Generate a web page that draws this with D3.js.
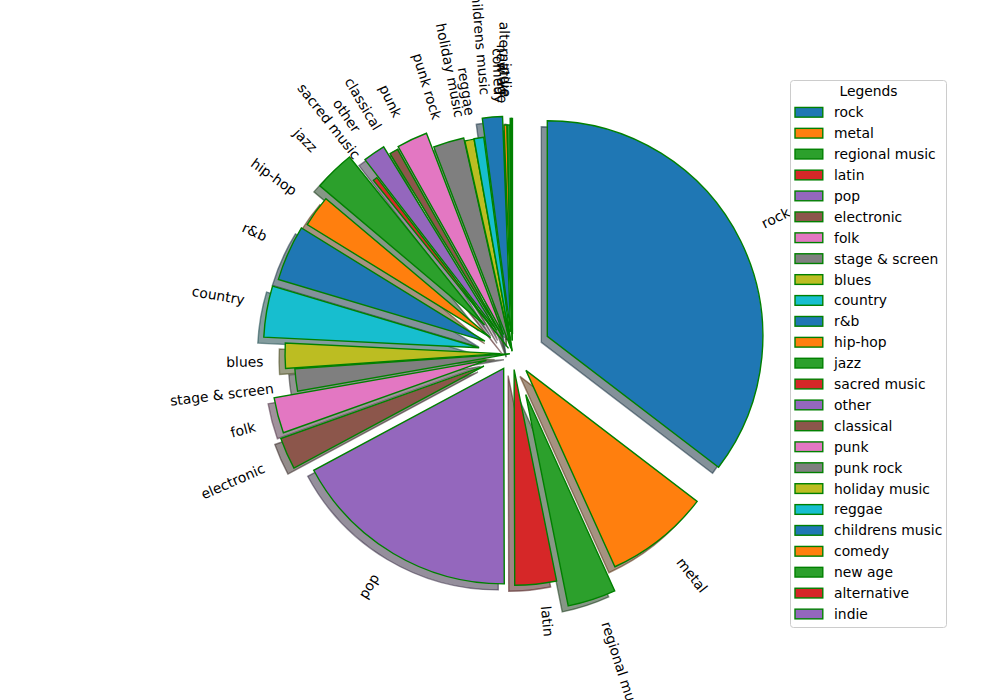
<!DOCTYPE html>
<html>
<head>
<meta charset="utf-8">
<script src="https://cdn.jsdelivr.net/npm/d3@7"></script>
<style>
  html, body { margin: 0; padding: 0; background: #fff; }
  svg { display: block; }
  text { font-family: "DejaVu Sans", sans-serif; }
</style>
</head>
<body>
<svg id="chart" width="1000" height="700"></svg>
<script>
const categories = ["rock", "metal", "regional music", "latin", "pop", "electronic", "folk",
  "stage & screen", "blues", "country", "r&b", "hip-hop", "jazz", "sacred music", "other",
  "classical", "punk", "punk rock", "holiday music", "reggae", "childrens music", "comedy",
  "new age", "alternative", "indie"];
const values = [35.36, 7.83, 3.61, 3.11, 17.19, 2.39, 2.67, 1.67, 1.89, 3.83, 4.17, 2.36,
  3.06, 0.33, 1.67, 0.64, 2.31, 2.31, 0.69, 0.72, 1.5, 0.22, 0.22, 0.08, 0.08];
const explode = [0.18, 0.1, 0.2, 0.075, 0.08, 0.145, 0.125, 0.012, 0.055, 0.157, 0.14, 0.125,
  0.185, 0.03, 0.13, 0.087, 0.097, 0.025, 0.01, 0.012, 0.1, 0.06, 0.06, 0.09, 0.09];
const palette = ["#1f77b4", "#ff7f0e", "#2ca02c", "#d62728", "#9467bd", "#8c564b",
  "#e377c2", "#7f7f7f", "#bcbd22", "#17becf"];
const legendTitle = "Legends";

const svg = d3.select("#chart");
const cx = 512.5, cy = 353.5, R = 215.6;
const fontPx = 13.89;
const edge = "green";
const lw = 1.4;
const shadowOff = 0.02 * 100 / 72 * R;

const color = d3.scaleOrdinal().domain(categories).range(palette);
const pie = d3.pie().sort(null).value(d => d.v);
const arcs = pie(categories.map((c, i) => ({ c, v: values[i], e: explode[i] })));
const arc = d3.arc().innerRadius(0).outerRadius(R);

function shade(hex) {
  const c = d3.rgb(hex);
  return d3.rgb(c.r * 0.3, c.g * 0.3, c.b * 0.3).toString();
}

const g = svg.append("g").attr("transform", `translate(${cx},${cy})`);

arcs.forEach(a => {
  const mid = (a.startAngle + a.endAngle) / 2;
  a.mid = mid;
  a.ox = a.data.e * R * Math.sin(mid);
  a.oy = -a.data.e * R * Math.cos(mid);
});

// shadows
g.append("g").selectAll("path").data(arcs).join("path")
  .attr("d", arc)
  .attr("transform", a => `translate(${a.ox - shadowOff},${a.oy + shadowOff})`)
  .attr("fill", a => shade(color(a.data.c)))
  .attr("fill-opacity", 0.5)
  .attr("stroke", a => shade(color(a.data.c)))
  .attr("stroke-opacity", 0.5)
  .attr("stroke-width", lw)
  .attr("stroke-linejoin", "miter");

// wedges
g.append("g").selectAll("path").data(arcs).join("path")
  .attr("d", arc)
  .attr("transform", a => `translate(${a.ox},${a.oy})`)
  .attr("fill", a => color(a.data.c))
  .attr("stroke", edge)
  .attr("stroke-width", lw)
  .attr("stroke-linejoin", "miter");

// labels (matplotlib rotatelabels behaviour)
const hBox = 13.44, dBox = 2.89;
const lg = svg.append("g");
arcs.forEach(a => {
  const xt = a.ox + 1.1 * R * Math.sin(a.mid);
  const yt = a.oy - 1.1 * R * Math.cos(a.mid);
  const thetam = 90 - a.mid * 180 / Math.PI;
  const rot = thetam + (xt > 0 ? 0 : 180);
  const t = lg.append("text").attr("font-size", fontPx).attr("text-anchor", "middle")
    .attr("fill", "#000").text(a.data.c);
  const w = t.node().getComputedTextLength();
  const rr = rot * Math.PI / 180;
  const W = w * Math.abs(Math.cos(rr)) + hBox * Math.abs(Math.sin(rr));
  const H = w * Math.abs(Math.sin(rr)) + hBox * Math.abs(Math.cos(rr));
  const bx = cx + xt + (xt > 0 ? W / 2 : -W / 2);
  const by = cy + yt + (yt < 0 ? -H / 2 : H / 2);
  t.attr("x", 0).attr("y", hBox / 2 - dBox)
    .attr("transform", `translate(${bx},${by}) rotate(${-rot})`);
});

// legend
const leg = svg.append("g");
leg.append("rect").attr("x", 790.5).attr("y", 80.5).attr("width", 156).attr("height", 547)
  .attr("rx", 3).attr("fill", "#fff").attr("fill-opacity", 0.8)
  .attr("stroke", "#cccccc").attr("stroke-width", 1);
leg.append("text").attr("x", 868.5).attr("y", 96).attr("text-anchor", "middle")
  .attr("font-size", fontPx).attr("fill", "#000").text(legendTitle);
const rowY = d3.scaleLinear().domain([0, categories.length - 1]).range([112.3, 614]);
categories.forEach((c, i) => {
  const y = rowY(i);
  leg.append("rect").attr("x", 795).attr("y", y - 4.85).attr("width", 27.8).attr("height", 9.7)
    .attr("fill", color(c)).attr("stroke", edge).attr("stroke-width", lw);
  leg.append("text").attr("x", 834).attr("y", y + 5).attr("font-size", fontPx)
    .attr("fill", "#000").text(c);
});
</script>
</body>
</html>
